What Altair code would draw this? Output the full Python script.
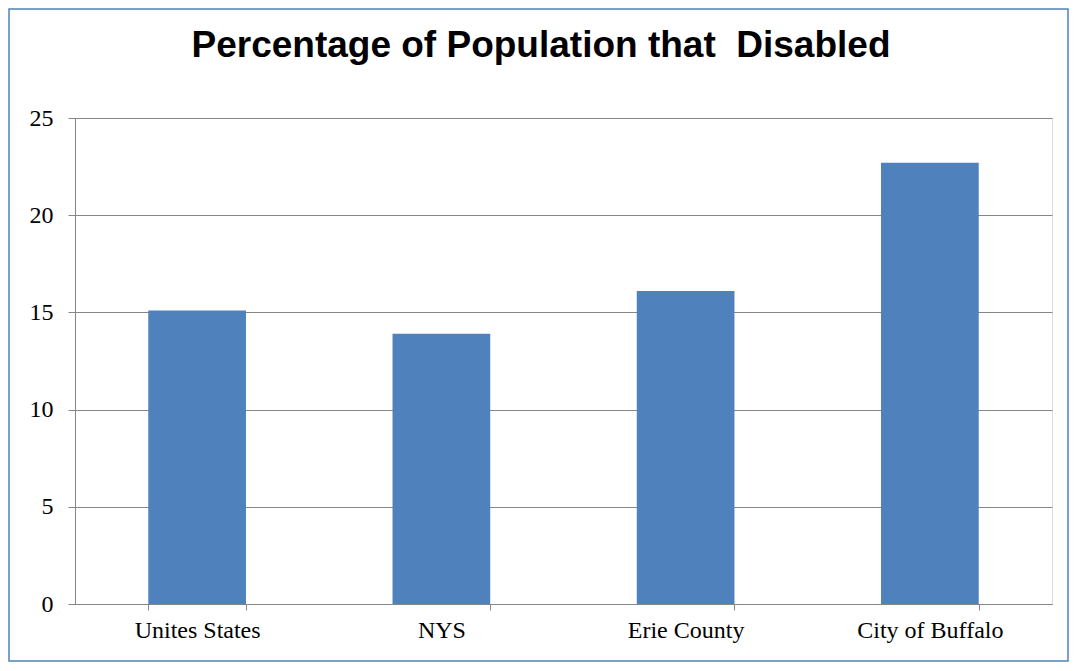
import altair as alt
import pandas as pd

categories = ["Unites States", "NYS", "Erie County", "City of Buffalo"]
values = [15.1, 13.9, 16.1, 22.7]
y_ticks = [0, 5, 10, 15, 20, 25]
title_text = "Percentage of Population that\u00a0 Disabled"

df = pd.DataFrame({"category": categories, "value": values})

W, H = 977, 486
GREY = "#868686"
BLUE = "#4F81BD"

bars = alt.Chart(df).mark_bar(color=BLUE).encode(
    x=alt.X("category:N", sort=categories,
            scale=alt.Scale(paddingInner=0.6, paddingOuter=0.3),
            axis=alt.Axis(title=None, labelAngle=0, tickBand="extent",
                          domainColor=GREY, tickColor=GREY, tickSize=6,
                          labelFont="Liberation Serif", labelFontSize=24,
                          labelColor="black", labelPadding=8, grid=False)),
    y=alt.Y("value:Q", scale=alt.Scale(domain=[0, 25], nice=False),
            axis=alt.Axis(title=None, values=y_ticks, grid=True,
                          gridColor=GREY, domainColor=GREY, tickColor=GREY,
                          tickSize=7, labelFont="Liberation Serif",
                          labelFontSize=24, labelColor="black",
                          labelPadding=15)),
)

border = alt.Chart(alt.Data(values=[{}])).mark_rect(
    fill=None, stroke=BLUE, strokeWidth=1.5
).encode(
    x=alt.value(-66), x2=alt.value(993),
    y=alt.value(-109), y2=alt.value(543),
)

title = alt.Chart(alt.Data(values=[{}])).mark_text(
    text=title_text, font="Liberation Sans", fontWeight="bold", fontSize=37,
    align="center", baseline="alphabetic", color="black"
).encode(x=alt.value(466), y=alt.value(-61))

chart = alt.layer(bars, border, title).properties(
    width=W, height=H,
    autosize=alt.AutoSizeParams(type="none"),
    padding={"left": 67, "top": 110, "right": 18, "bottom": 59},
).configure_view(stroke=None).configure(background="white")

chart.save("out.html", embed_options={"renderer": "svg", "actions": False})
